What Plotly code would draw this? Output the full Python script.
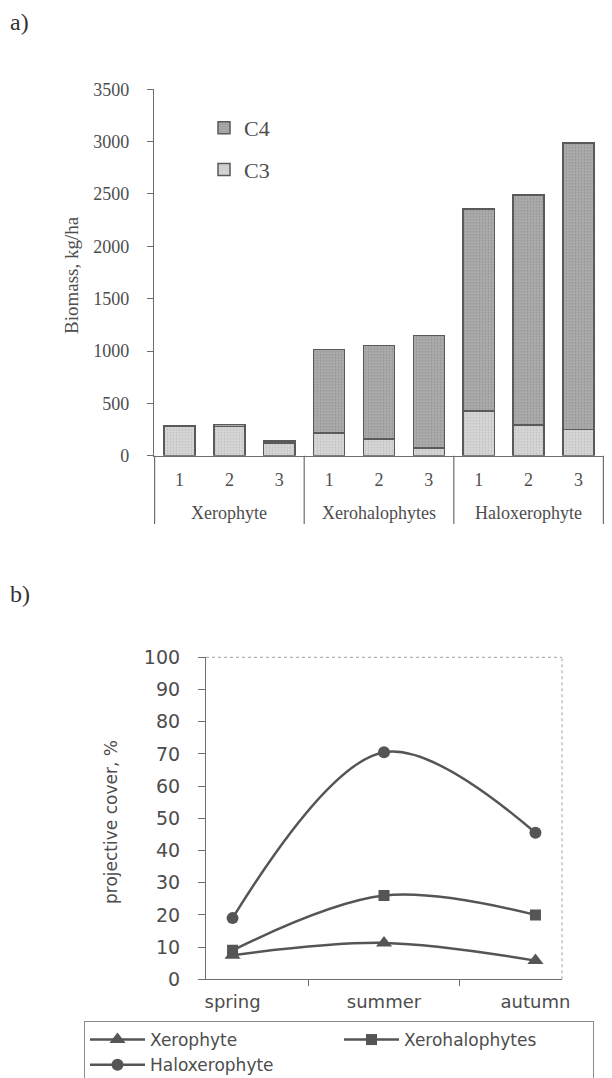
import plotly.graph_objects as go

# ---- data: panel a (biomass, kg/ha) ----
groups = ["Xerophyte", "Xerohalophytes", "Haloxerophyte"]
sites = ["1", "2", "3"]
c3_values = [285, 280, 120, 215, 160, 75, 425, 295, 250]
c4_values = [0, 20, 20, 800, 895, 1075, 1930, 2195, 2735]
biomass_ticks = [0, 500, 1000, 1500, 2000, 2500, 3000, 3500]

# ---- data: panel b (projective cover, %) ----
seasons = ["spring", "summer", "autumn"]
xerophyte_cover = [7.5, 11.3, 5.8]
xerohalophytes_cover = [9, 26, 20]
haloxerophyte_cover = [19, 70.5, 45.5]

# page has an 8px body margin; figure runs past the bottom of the window
W, H = 596, 1100
OFF = 8
serif = "Liberation Serif, Times New Roman, serif"
sans = "DejaVu Sans, Arial, sans-serif"
ink = "#4d4d4d"
axis_col = "#6e6e6e"


def fx(px):
    return (px - OFF) / W


def fy(px):
    return 1 - (px - OFF) / H


# unique category keys for each bar, shown with the site number only
bar_keys = [f"{g} {s}" for g in groups for s in sites]
bar_ticktext = [s for _ in groups for s in sites]
group_centers = [f"{g} {sites[len(sites) // 2]}" for g in groups]
group_bounds = [i * len(sites) - 0.5 for i in range(len(groups) + 1)]

fig = go.Figure()

fig.add_trace(go.Bar(
    x=bar_keys, y=c3_values, name="C3", legend="legend", legendgroup="c3", legendrank=2,
    marker=dict(color="#d6d6d6", line=dict(color="#5a5a5a", width=1.5),
                pattern=dict(shape=".", fgcolor="#a4a4a4", size=3, solidity=0.25)),
    xaxis="x", yaxis="y"))
fig.add_trace(go.Bar(
    x=bar_keys, y=c4_values, name="C4", legend="legend", legendgroup="c4", legendrank=1,
    marker=dict(color="#ababab", line=dict(color="#5a5a5a", width=1.5),
                pattern=dict(shape=".", fgcolor="#777777", size=3, solidity=0.25)),
    xaxis="x", yaxis="y"))

line_style = dict(color="#555555", width=2.5, shape="spline", smoothing=1)
fig.add_trace(go.Scatter(
    x=seasons, y=xerophyte_cover, name="Xerophyte", mode="lines+markers",
    line=line_style, marker=dict(symbol="triangle-up", size=14, color="#555555"),
    legend="legend2", xaxis="x2", yaxis="y2"))
fig.add_trace(go.Scatter(
    x=seasons, y=xerohalophytes_cover, name="Xerohalophytes", mode="lines+markers",
    line=line_style, marker=dict(symbol="square", size=11, color="#555555"),
    legend="legend2", xaxis="x2", yaxis="y2"))
fig.add_trace(go.Scatter(
    x=seasons, y=haloxerophyte_cover, name="Haloxerophyte", mode="lines+markers",
    line=line_style, marker=dict(symbol="circle", size=12, color="#555555"),
    legend="legend2", xaxis="x2", yaxis="y2"))

shapes = [
    dict(type="line", xref="x", yref="paper", x0=b, x1=b, y0=fy(455.7), y1=fy(524),
         line=dict(color=axis_col, width=1.2))
    for b in group_bounds
]
shapes += [
    dict(type="line", xref="x2 domain", yref="y2 domain", x0=0, x1=1, y0=1, y1=1,
         line=dict(color="#a0a0a0", width=1, dash="dot")),
    dict(type="line", xref="x2 domain", yref="y2 domain", x0=1, x1=1, y0=0, y1=1,
         line=dict(color="#a0a0a0", width=1, dash="dot")),
]

annotations = [
    dict(text=g, x=c, y=fy(513), xref="x", yref="paper", xanchor="center",
         yanchor="middle", showarrow=False, font=dict(family=serif, size=18, color=ink))
    for g, c in zip(groups, group_centers)
]
annotations += [
    dict(text="a)", x=fx(8), y=fy(22), xref="paper", yref="paper",
         xanchor="left", yanchor="middle", showarrow=False,
         font=dict(family=serif, size=24, color="#333333")),
    dict(text="b)", x=fx(8), y=fy(594), xref="paper", yref="paper",
         xanchor="left", yanchor="middle", showarrow=False,
         font=dict(family=serif, size=24, color="#333333")),
    dict(text="Biomass, kg/ha", x=fx(72), y=fy(275), xref="paper", yref="paper",
         xanchor="center", yanchor="middle", showarrow=False, textangle=-90,
         font=dict(family=serif, size=19, color=ink)),
    dict(text="projective cover, %", x=fx(111), y=fy(822), xref="paper", yref="paper",
         xanchor="center", yanchor="middle", showarrow=False, textangle=-90,
         font=dict(family=sans, size=17, color=ink)),
]

fig.update_layout(
    width=W, height=H,
    margin=dict(l=0, r=0, t=0, b=0),
    paper_bgcolor="white", plot_bgcolor="white",
    barmode="stack", bargap=0.375,
    showlegend=True,
    xaxis=dict(domain=[fx(154), 1.0], anchor="y", type="category",
               tickvals=bar_keys, ticktext=bar_ticktext,
               showline=True, linecolor=axis_col, linewidth=1.2,
               ticks="", showgrid=False, automargin=False, ticklabelstandoff=8,
               tickfont=dict(family=serif, size=18, color=ink)),
    yaxis=dict(domain=[fy(455.7), fy(89.3)], anchor="x", range=[0, 3500],
               tickvals=biomass_ticks, showline=True, linecolor=axis_col, linewidth=1.2,
               ticks="outside", ticklen=6, tickcolor=axis_col, showgrid=False,
               zeroline=False, automargin=False, ticklabelstandoff=14,
               tickfont=dict(family=serif, size=18, color=ink)),
    xaxis2=dict(domain=[fx(206), fx(562)], anchor="y2", type="category",
                showline=True, linecolor=axis_col, linewidth=1.2,
                ticks="outside", tickson="boundaries", ticklen=6, tickcolor=axis_col,
                showgrid=False, automargin=False, ticklabelstandoff=6,
                tickfont=dict(family=sans, size=18, color=ink)),
    yaxis2=dict(domain=[fy(979.3), fy(657.3)], anchor="x2", range=[0, 100], dtick=10,
                showline=True, linecolor=axis_col, linewidth=1.2,
                ticks="outside", ticklen=7, tickcolor=axis_col, showgrid=False,
                zeroline=False, automargin=False, ticklabelstandoff=14,
                tickfont=dict(family=sans, size=19, color=ink)),
    legend=dict(x=fx(204), xanchor="left", y=fy(107), yanchor="top",
                traceorder="grouped", tracegroupgap=10,
                bgcolor="rgba(0,0,0,0)", borderwidth=0,
                font=dict(family=serif, size=22, color=ink)),
    legend2=dict(x=fx(84), xanchor="left", y=fy(1021), yanchor="top",
                 orientation="h", entrywidth=184, entrywidthmode="pixels",
                 itemwidth=55,
                 bgcolor="white", bordercolor="#8a8a8a", borderwidth=1,
                 font=dict(family=sans, size=17, color=ink)),
    shapes=shapes,
    annotations=annotations,
)

fig.write_html("out.html")
